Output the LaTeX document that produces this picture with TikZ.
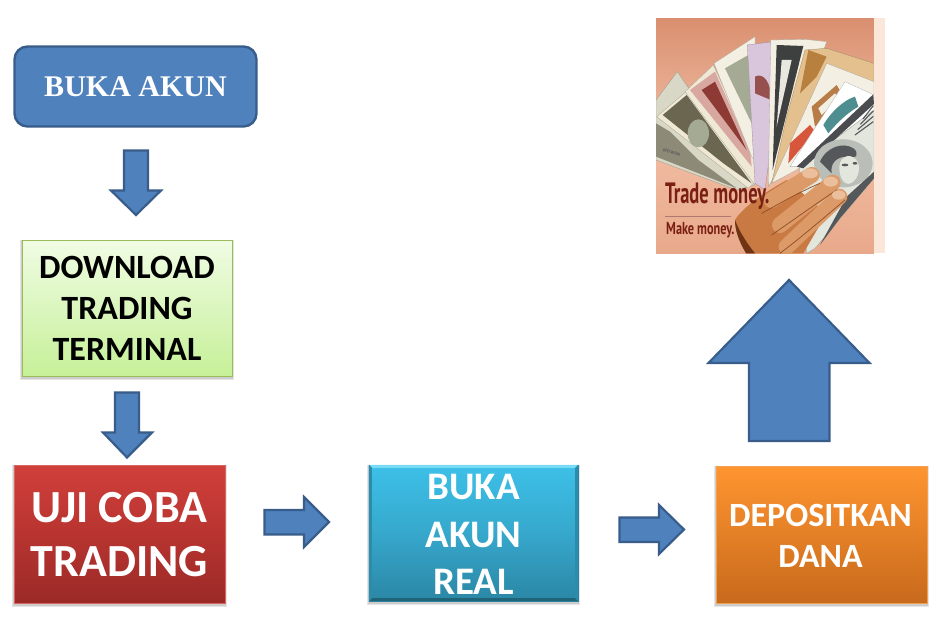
\documentclass[tikz,border=0pt]{standalone}
\usepackage{fontspec}
\setmainfont{Carlito}
\newfontfamily\serifb{Liberation Serif}
\newfontfamily\photofont{PT Sans}
\usetikzlibrary{calc}
\definecolor{blueF}{HTML}{4F81BD}
\definecolor{blueD}{HTML}{385D8A}
\definecolor{ink}{HTML}{7A1F14}
\definecolor{F1}{HTML}{F0FCE4}\definecolor{F2}{HTML}{C6F098}\definecolor{F3}{HTML}{9BBB59}
\definecolor{R1}{HTML}{D03F3B}\definecolor{R2}{HTML}{9A2A27}\definecolor{R3}{HTML}{B83430}
\definecolor{C1}{HTML}{3DC0E8}\definecolor{C2}{HTML}{2B86A5}\definecolor{C3}{HTML}{36A8CC}
\definecolor{CL}{HTML}{7ADCF4}\definecolor{CD}{HTML}{1F6478}\definecolor{CS}{HTML}{2C8CAC}
\definecolor{O1}{HTML}{FF9530}\definecolor{O2}{HTML}{C86A1C}\definecolor{O3}{HTML}{F0A050}
\definecolor{P1}{HTML}{D98F70}\definecolor{P2}{HTML}{F2BEA4}\definecolor{P3}{HTML}{E8A98A}\definecolor{P4}{HTML}{FBE6DA}
\definecolor{N1}{HTML}{D9D8C6}\definecolor{N2}{HTML}{8E8A78}\definecolor{N3}{HTML}{EFE8D4}
\definecolor{N4}{HTML}{6A6650}\definecolor{N5}{HTML}{D8A8A0}\definecolor{N6}{HTML}{8E3A34}
\definecolor{N7}{HTML}{F3EFE2}\definecolor{N8}{HTML}{A4AA94}\definecolor{N9}{HTML}{D9C6DC}
\definecolor{N10}{HTML}{96504E}\definecolor{N11}{HTML}{3E4040}\definecolor{N12}{HTML}{E8E8E0}
\definecolor{N13}{HTML}{E3C08E}\definecolor{N14}{HTML}{B8803E}\definecolor{N15}{HTML}{B87C48}
\definecolor{N16}{HTML}{D8563C}\definecolor{N17}{HTML}{4E8E90}\definecolor{N18}{HTML}{4A4C50}
\definecolor{N19}{HTML}{55585A}\definecolor{N20}{HTML}{B9BEB8}\definecolor{N21}{HTML}{E2E6DC}
\definecolor{H1}{HTML}{C87A42}\definecolor{H2}{HTML}{8E4C24}\definecolor{H3}{HTML}{6E3414}\definecolor{H4}{HTML}{EBBE9C}\definecolor{H5}{HTML}{DC9A68}
\tikzset{
  blockarrow/.style={fill=blueF,draw=blueD,line width=2.2pt,line join=miter},
  softshadow/.style={fill=black,opacity=.10,draw=none},
  lbl/.style={inner sep=0pt,align=center},
  boxshape/.style={inner sep=0pt},
  note/.style={line width=.3pt,draw=#1!70!black,fill=#1},
  finger/.style={line width=16pt,line cap=round,draw=H5},
  crease/.style={draw=H2,line width=.7pt},
}
\newcommand{\shadowbox}[4]{%
  \foreach \d in {1,2.5,4}{\fill[softshadow] (#1-\d*.4,#2) rectangle (#3+\d*.4,#4+\d);}}
\begin{document}
\begin{tikzpicture}[x=1pt,y=-1pt]
\useasboundingbox (0,0) rectangle (941,628);
\fill[white] (0,0) rectangle (941,628);

% BUKA AKUN
\node[rounded corners=13pt,fill=blueF,draw=blueD,line width=2.4pt,minimum width=242pt,minimum height=80pt,inner sep=0pt,
  font=\serifb\bfseries\fontsize{30}{32}\selectfont,text=white] (buka) at (135.5,86.5) {\raisebox{-1.5pt}{BUKA AKUN}};

% arrow 1
\draw[blockarrow] (124,150.5) -- (148,150.5) -- (148,190.5) -- (161,190.5) -- (136,215) -- (111,190.5) -- (124,190.5) -- cycle;

% DOWNLOAD
\shadowbox{22}{240}{232}{376}
\node[boxshape,minimum width=210pt,minimum height=136pt,top color=F1,bottom color=F2,draw=F3,line width=.8pt] (down) at (127,308) {};
\node[lbl,font=\bfseries\fontsize{34}{41}\selectfont,text=black] (downtxt) at (down.center) {DOWNLOAD\\TRADING\\TERMINAL};

% arrow 2
\draw[blockarrow] (115,392.5) -- (139,392.5) -- (139,432.5) -- (152,432.5) -- (127,457.5) -- (103,432.5) -- (115,432.5) -- cycle;

% UJI COBA
\shadowbox{14}{465}{225}{603}
\node[boxshape,minimum width=211pt,minimum height=138pt,top color=R1,bottom color=R2,middle color=R3,draw=R1!80!white,line width=.5pt] (uji) at (119.5,534) {};
\node[lbl,font=\bfseries\fontsize{46}{54}\selectfont,text=white,yshift=-.5pt] (ujitxt) at (uji.center) {UJI COBA\\TRADING};

% arrow 3
\draw[blockarrow] (264.5,510) -- (304,510) -- (304,497) -- (329,522) -- (304,547) -- (304,534.5) -- (264.5,534.5) -- cycle;

% BUKA AKUN REAL
\shadowbox{369}{465}{578}{601}
\node[boxshape,minimum width=209pt,minimum height=136pt,top color=C1,bottom color=C2,middle color=C3,draw=C2,line width=.3pt] (real) at (473.5,533) {};
\fill[CL] (real.north west) -- (real.north east) -- ($(real.north east)+(-3,3)$) -- ($(real.north west)+(3,3)$) -- cycle;
\fill[CD] (real.south west) -- (real.south east) -- ($(real.south east)+(-3,-3)$) -- ($(real.south west)+(3,-3)$) -- cycle;
\fill[CS] (real.north west) -- ($(real.north west)+(3,3)$) -- ($(real.south west)+(3,-3)$) -- (real.south west) -- cycle;
\fill[CS] (real.north east) -- ($(real.north east)+(-3,3)$) -- ($(real.south east)+(-3,-3)$) -- (real.south east) -- cycle;
\node[lbl,font=\bfseries\fontsize{39}{47.5}\selectfont,text=white,yshift=-1.5pt] (realtxt) at (real.center) {BUKA\\AKUN\\REAL};

% arrow 4
\draw[blockarrow] (619.5,517.5) -- (659,517.5) -- (659,505) -- (684,529.5) -- (659,554) -- (659,542) -- (619.5,542) -- cycle;

% DEPOSITKAN DANA
\shadowbox{716}{466}{927}{603}
\node[boxshape,minimum width=211pt,minimum height=137pt,top color=O1,bottom color=O2,draw=O3,line width=.8pt] (depo) at (821.5,534.5) {};
\node[lbl,font=\bfseries\fontsize{34}{41}\selectfont,text=white,yshift=-1pt,xshift=-1pt] (depotxt) at (depo.center) {DEPOSITKAN\\DANA};

% big arrow
\draw[blockarrow] (749,441) -- (829.5,441) -- (829.5,363) -- (869.5,363) -- (789,280) -- (708.5,363) -- (749,363) -- cycle;

% photo, coordinates follow a 3x enlargement
\begin{scope}[shift={(640,0)},x=.3333pt,y=-.3333pt]
  \fill[P4] (702,55) rectangle (735,760);
  \begin{scope}
    \clip (48,55) rectangle (702,760);
    \shade[top color=P1,bottom color=P3,middle color=P2] (48,55) rectangle (702,760);
    % fan of notes, back to front
    \fill[note=N1] (48,300) -- (112,215) -- (345,555) -- (290,570) -- (48,480) -- cycle;
    \fill[N2] (48,370) -- (90,395) -- (175,480) -- (290,565) -- (48,470) -- cycle;
    \fill[note=N3] (50,350) -- (150,265) -- (345,545) -- (325,565) -- cycle;
    \fill[N4] (68,345) -- (140,285) -- (335,550) -- (250,490) -- cycle;
    \fill[N8] (175,400) circle[x radius=32,y radius=42];
    \fill[note=N3] (135,275) -- (220,195) -- (350,480) -- (345,555) -- cycle;
    \fill[N5] (150,270) -- (225,215) -- (330,450) -- (335,500) -- cycle;
    \fill[N6] (185,270) -- (225,245) -- (320,450) -- cycle;
    \fill[note=N7] (222,190) -- (345,110) -- (350,480) -- (335,470) -- cycle;
    \fill[N8] (255,205) -- (325,165) -- (335,370) -- cycle;
    \fill[note=N9] (322,135) -- (400,125) -- (395,420) -- (375,570) -- (345,550) -- cycle;
    \fill[N10] (345,230) .. controls (370,215) and (395,250) .. (393,300) -- (345,280) -- cycle;
    \fill[note=N7] (392,120) -- (495,118) -- (560,125) -- (430,480) -- (385,560) -- cycle;
    \fill[N11] (410,135) -- (490,138) -- (398,510) -- cycle;
    \fill[N12] (425,180) -- (455,180) -- (410,380) -- cycle;
    \fill[note=N13] (495,150) -- (560,145) -- (702,190) -- (702,260) -- (430,530) -- (395,550) -- (440,350) -- cycle;
    \fill[N14] (505,150) -- (560,170) -- (530,230) -- (480,280) -- cycle;
    \fill[note=N7] (560,190) -- (702,245) -- (702,290) -- (470,510) -- (395,550) -- cycle;
    \fill[N15] (515,320) -- (590,255) -- (610,290) -- (525,380) -- cycle;
    \fill[N7] (535,325) -- (585,280) -- (595,295) -- (545,345) -- cycle;
    \fill[N16] (450,430) -- (510,375) -- (525,395) -- (445,490) -- cycle;
    \fill[note=white] (615,245) -- (702,285) -- (702,330) -- (480,500) -- (450,500) -- cycle;
    \fill[N17] (550,375) .. controls (570,340) and (610,300) .. (645,290) -- (655,320) .. controls (620,340) and (590,370) .. (565,400) -- cycle;
    % lower bill
    \fill[note=N21] (478,498) -- (702,330) -- (702,535) -- (525,745) -- (500,760) -- cycle;
    \fill[N18] (470,500) -- (700,283) -- (702,312) -- (490,505) -- cycle;
    \foreach \k in {0,1,2,3}{\draw[N19,line width=1.1pt] ({645+\k*8},{405-\k*16}) -- ({700},{365-\k*16});}
    \fill[N20] (610,490) circle[x radius=88,y radius=72];
    \fill[N19] (540,485) .. controls (560,440) and (610,425) .. (640,445) .. controls (660,460) and (650,480) .. (620,470) .. controls (590,470) and (570,490) .. (575,520) -- cycle;
    \fill[N21] (598,500) .. controls (600,465) and (640,455) .. (655,490) .. controls (665,520) and (640,560) .. (618,550) .. controls (605,545) and (598,525) .. cycle;
    \fill[N19] (615,495) circle[x radius=10,y radius=4];
    \fill[N19] (645,490) circle[x radius=7,y radius=4];
    \fill[N19] (620,590) -- (702,515) -- (702,535) -- (600,655) -- (540,735) -- cycle;
    % hand
    \fill[H1] (285,660) .. controls (310,620) and (370,580) .. (440,540) -- (560,640) -- (490,760) -- (320,760) .. controls (295,720) and (285,690) .. cycle;
    \fill[H3] (285,660) .. controls (300,700) and (325,735) .. (345,760) -- (318,760) .. controls (295,720) and (285,690) .. cycle;
    \draw[finger] (395,600) -- (515,525);
    \draw[finger] (420,675) -- (578,548);
    \draw[finger] (440,740) -- (598,590);
    \draw[crease] (365,640) .. controls (420,610) and (480,575) .. (540,550);
    \draw[crease] (395,705) .. controls (460,660) and (530,610) .. (590,570);
    \draw[crease] (420,760) .. controls (480,715) and (550,655) .. (615,600);
    \fill[H4] (510,520) circle[x radius=24,y radius=15];
    \fill[H4] (572,545) circle[x radius=22,y radius=15];
    \fill[H4] (596,585) circle[x radius=20,y radius=14];
  \end{scope}
  \node[inner sep=0pt,rotate=-18,text=N19,font=\bfseries\fontsize{4.5}{5}\selectfont] (won) at (95,458) {000 WON};
  \draw[ink!60,line width=.4pt] (75,648) -- (272,648);
  \node[inner sep=0pt,anchor=west,text=ink] (trade) at (75,589)
    {\scalebox{.66}[1.05]{\photofont\bfseries\fontsize{28}{30}\selectfont Trade money.}};
  \node[inner sep=0pt,anchor=west,text=ink] (make) at (78,692)
    {\scalebox{.72}[1.02]{\photofont\bfseries\fontsize{17}{20}\selectfont Make money.}};
\end{scope}
\end{tikzpicture}
\end{document}
